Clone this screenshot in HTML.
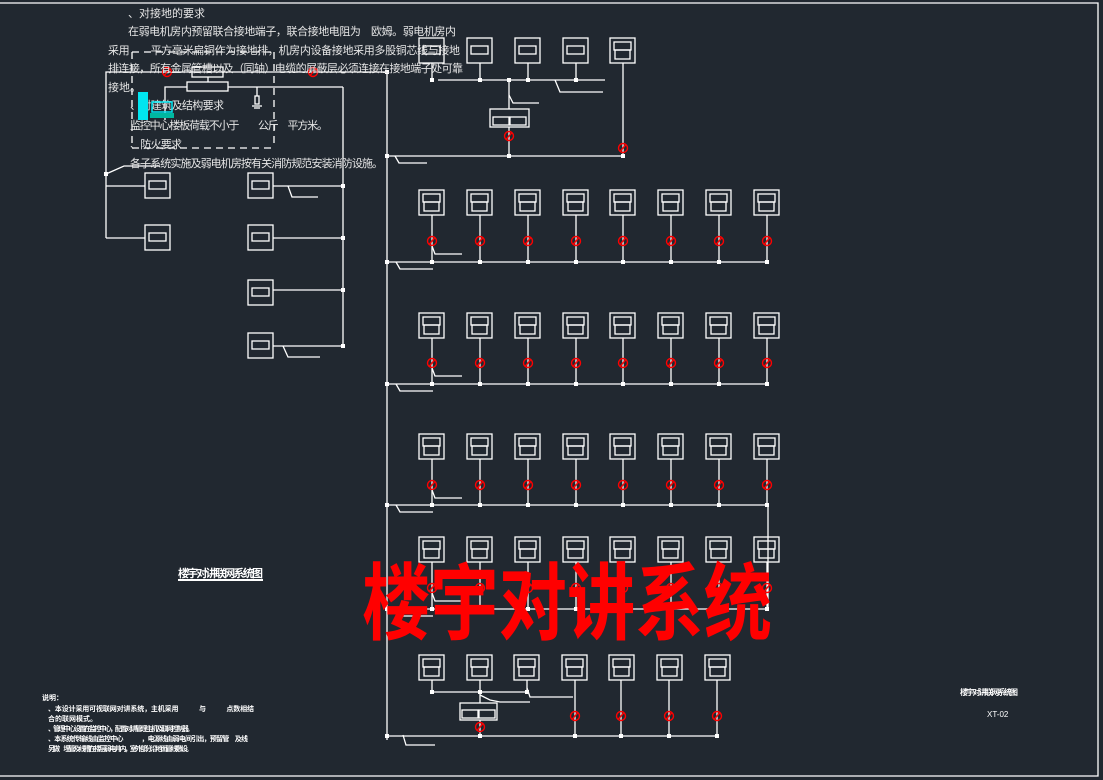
<!DOCTYPE html>
<html><head><meta charset="utf-8"><style>
html,body{margin:0;padding:0;background:#212830;}
svg{display:block}
text{font-family:"Liberation Sans","Noto Sans CJK SC",sans-serif;}
</style></head><body>
<svg id="s" width="1103" height="780" viewBox="0 0 1103 780" xmlns="http://www.w3.org/2000/svg">
<rect width="1103" height="780" fill="#212830"/>
<g stroke="#fff" stroke-width="1.3" fill="none" id="g">
<polyline points="0,3 1098,3 1098,776 0,776"/>
<polyline points="106,238 106,72 387,72"/>
<line x1="106" y1="186" x2="145" y2="186"/>
<line x1="106" y1="238" x2="145" y2="238"/>
<polyline points="106,174 124,166 160,166"/>
<rect x="145" y="173" width="25" height="25"/><rect x="149" y="181" width="17" height="8"/>
<rect x="145" y="225" width="25" height="25"/><rect x="149" y="233" width="17" height="8"/>
<rect x="248" y="173" width="25" height="25"/><rect x="252" y="181" width="17" height="8"/>
<rect x="248" y="225" width="25" height="25"/><rect x="252" y="233" width="17" height="8"/>
<rect x="248" y="280" width="25" height="25"/><rect x="252" y="288" width="17" height="8"/>
<rect x="248" y="333" width="25" height="25"/><rect x="252" y="341" width="17" height="8"/>
<line x1="273" y1="186" x2="343" y2="186"/>
<line x1="273" y1="238" x2="343" y2="238"/>
<line x1="273" y1="290" x2="343" y2="290"/>
<line x1="273" y1="346" x2="343" y2="346"/>
<polyline points="343,87 343,346"/>
<polyline points="288,186 292,197 318,197"/>
<polyline points="283,346 288,357 320,357"/>
<rect x="192" y="67" width="31" height="10"/>
<line x1="208" y1="77" x2="208" y2="82"/>
<rect x="187" y="82" width="41" height="9"/>
<polyline points="187,87 165,87 165,120"/>
<polyline points="228,87 343,87"/>
<line x1="257" y1="87" x2="257" y2="96"/><rect x="255" y="96" width="4" height="8"/>
<line x1="252" y1="106" x2="262" y2="106"/><line x1="254" y1="108" x2="260" y2="108"/>
<g stroke-dasharray="7,5"><line x1="132" y1="52" x2="132" y2="148"/><line x1="274" y1="52" x2="274" y2="148"/><line x1="132" y1="148" x2="274" y2="148"/><line x1="132" y1="52" x2="274" y2="52"/></g>
<line x1="387" y1="72" x2="387" y2="740"/>
<line x1="438" y1="80" x2="605" y2="80"/>
<polyline points="555,80 560,92 603,92"/>
<line x1="509" y1="80" x2="509" y2="109"/>
<polyline points="509,95 513,103 539,103"/>
<rect x="490" y="109" width="39" height="18"/><rect x="493" y="117" width="16" height="8"/><rect x="510" y="117" width="16" height="8"/>
<line x1="509" y1="127" x2="509" y2="156"/>
<line x1="623" y1="63" x2="623" y2="156"/>
<line x1="387" y1="156" x2="623" y2="156"/>
<polyline points="395,156 399,163 427,163"/>
<line x1="768" y1="505" x2="768" y2="609"/>
</g>
<g fill="#e6e6e6" font-size="11" stroke="none">
<text x="128" y="17">、对接地的要求</text>
<text x="128" y="35" textLength="328">在弱电机房内预留联合接地端子，联合接地电阻为　欧姆。弱电机房内</text>
<text x="108" y="54" textLength="352">采用　　平方毫米扁铜作为接地排，机房内设备接地采用多股铜芯线与接地</text>
<text x="108" y="72" textLength="355">排连接，所有金属管槽以及（同轴）电缆的屏蔽层必须连接在接地端子处可靠</text>
<text x="108" y="91">接地。</text>
<text x="130" y="109" textLength="94">、对建筑及结构要求</text>
<text x="130" y="129" textLength="198">监控中心楼板荷载不小于　　公斤　平方米。</text>
<text x="130" y="148" textLength="52">、防火要求</text>
<text x="130" y="167" textLength="253">各子系统实施及弱电机房按有关消防规范安装消防设施。</text>
</g>
<g fill="#fff" stroke="none">
<text x="178" y="577" font-size="11" font-weight="bold" textLength="85">楼宇对讲联网系统图</text>
<text x="960" y="695" font-size="8" font-weight="bold" textLength="58">楼宇对讲联网系统图</text>
<text x="987" y="717" font-size="8">XT-02</text>
<g font-size="7" font-weight="bold">
<text x="42" y="700">说明：</text>
<text x="48" y="711" textLength="206">、本设计采用可视联网对讲系统，主机采用　　　与　　　点数相结</text>
<text x="48" y="721">合的联网模式。</text>
<text x="48" y="731" textLength="146">、管理中心设置在监控中心，配置对讲管理主机及联网控制器。</text>
<text x="48" y="741" textLength="200">、本系统传输线由监控中心　　　，电源线由弱电间引出，预留管　及线</text>
<text x="48" y="751" textLength="145">另做　埋管及线槽在楼层弱电井内，室外部分沿地面管线敷设。</text>
</g>
</g>
<rect x="178" y="579" width="85" height="2" fill="#fff"/>
<rect x="138" y="92" width="10" height="28" fill="#00e5f0"/>
<rect x="152" y="102" width="20" height="10" fill="none" stroke="#00e5f0" stroke-width="1.5"/>
<rect x="150" y="113" width="24" height="5" fill="#00b8a0"/>
<text x="362" y="633" font-size="84" font-weight="bold" fill="#ff0000" font-family="'Noto Sans CJK SC',sans-serif" textLength="410" lengthAdjust="spacingAndGlyphs">楼宇对讲系统</text>
</svg>
<script>
var g=document.getElementById('g'),NS='http://www.w3.org/2000/svg';
function el(t,a,p){var e=document.createElementNS(NS,t);for(var k in a)e.setAttribute(k,a[k]);(p||g).appendChild(e);return e;}
function ln(a,b,c,d){el('line',{x1:a,y1:b,x2:c,y2:d});}
function dot(x,y){el('rect',{x:x-2,y:y-2,width:4,height:4,fill:'#fff',stroke:'none'});}
function circ(x,y){var r=el('g',{stroke:'#f00','stroke-width':1.4});el('circle',{cx:x,cy:y,r:4.5,fill:'none'},r);el('line',{x1:x-2.5,y1:y+3,x2:x+2.5,y2:y-3},r);}
function box(x,y,dbl){el('rect',{x:x,y:y,width:25,height:25});if(dbl){el('rect',{x:x+4,y:y+4,width:17,height:8});el('rect',{x:x+5,y:y+12,width:15,height:9});}else el('rect',{x:x+4,y:y+8,width:17,height:8});}
[419,467,515,563].forEach(function(x){box(x,38,false);ln(x+13,63,x+13,80);dot(x+13,80);});
box(610,38,true);dot(509,80);dot(509,156);dot(623,156);dot(387,156);
circ(509,136);circ(623,148);
var xs=[419,467,515,563,610,658,706,754];
[[190,241,262],[313,363,384],[434,485,505],[537,588,609]].forEach(function(r){
 xs.forEach(function(x){box(x,r[0],true);ln(x+13,r[0]+25,x+13,r[2]);circ(x+13,r[1]);dot(x+13,r[2]);});
 ln(387,r[2],767,r[2]);dot(387,r[2]);
 el('polyline',{points:'396,'+r[2]+' 400,'+(r[2]+7)+' 433,'+(r[2]+7)});
 el('polyline',{points:'432,'+(r[1]+5)+' 435,'+(r[1]+13)+' 462,'+(r[1]+13)});
});
[419,467,514,562,609,657,705].forEach(function(x){box(x,655,true);});
ln(432,680,432,692);ln(480,680,480,703);ln(527,680,527,692);ln(432,692,527,692);dot(432,692);dot(480,692);dot(527,692);
el('polyline',{points:'480,695 490,700 500,702 530,702'});
el('polyline',{points:'527,688 530,697 573,697'});
el('rect',{x:460,y:703,width:37,height:17});el('rect',{x:462,y:710,width:16,height:8});el('rect',{x:479,y:710,width:16,height:8});
ln(480,720,480,736);circ(480,727);
[575,621,669,717].forEach(function(x){ln(x,680,x,736);circ(x,716);dot(x,736);});
ln(387,736,717,736);dot(387,736);dot(480,736);
el('polyline',{points:'403,735 406,745 435,745'});
dot(387,72);dot(106,174);dot(343,186);dot(343,238);dot(343,290);dot(343,346);
circ(167,72);circ(313,72);
</script>
</body></html>
